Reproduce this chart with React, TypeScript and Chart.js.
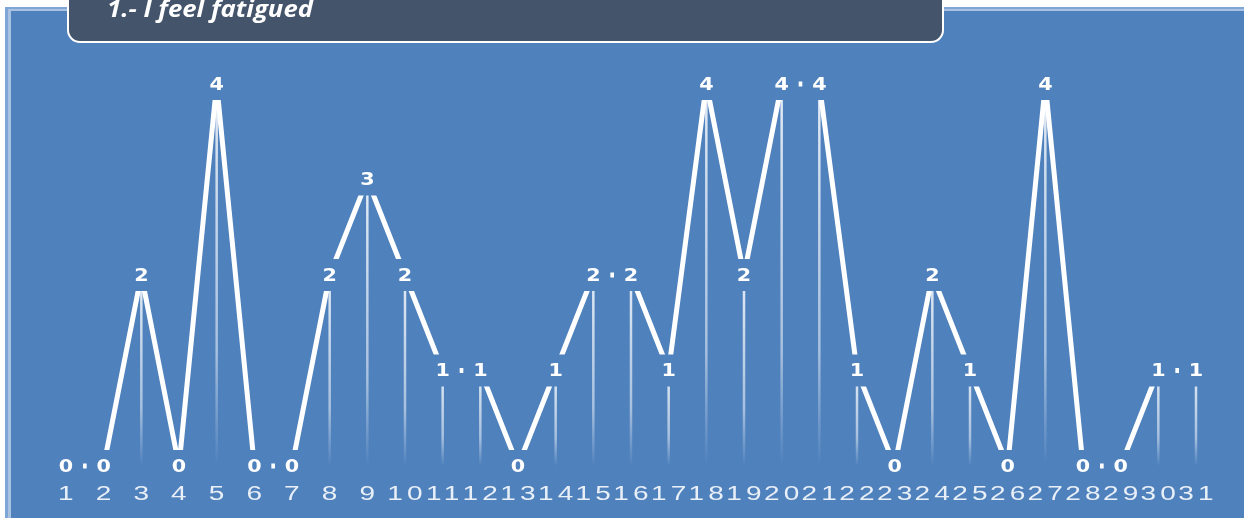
import React, { useEffect, useRef } from "react";
import { Chart, registerables } from "chart.js";

Chart.register(...registerables);

const dayLabels = [
  "1", "2", "3", "4", "5", "6", "7", "8", "9", "10",
  "11", "12", "13", "14", "15", "16", "17", "18", "19", "20",
  "21", "22", "23", "24", "25", "26", "27", "28", "29", "30", "31",
];
const fatigueValues = [
  0, 0, 2, 0, 4, 0, 0, 2, 3, 2,
  1, 1, 0, 1, 2, 2, 1, 4, 2, 4,
  4, 1, 0, 2, 1, 0, 4, 0, 0, 1, 1,
];
const titleText = "1.- I feel fatigued";
const yMin = 0;
const yMax = 4;

const BLUE = "#4F81BD";

const decorPlugin = {
  id: "decor",
  beforeDraw(chart: any) {
    const ctx = chart.ctx;
    const W = chart.width;
    const H = chart.height;
    ctx.save();
    ctx.fillStyle = "#ffffff";
    ctx.fillRect(0, 0, W, H);
    ctx.fillStyle = "#7FA6D6";
    ctx.fillRect(5, 7, W - 5, H - 7);
    ctx.fillStyle = "#A9C2E2";
    ctx.fillRect(8, 9, W - 8, H - 9);
    ctx.fillStyle = BLUE;
    ctx.fillRect(11, 11, W - 11, H - 11);
    ctx.restore();
  },
  beforeDatasetsDraw(chart: any) {
    const ctx = chart.ctx;
    const bottom = chart.chartArea.bottom;
    const meta = chart.getDatasetMeta(0);
    ctx.save();
    meta.data.forEach((el: any) => {
      if (el.y >= bottom - 1) return;
      const g = ctx.createLinearGradient(0, el.y, 0, bottom);
      g.addColorStop(0, "rgba(255,255,255,0.85)");
      g.addColorStop(0.7, "rgba(255,255,255,0.5)");
      g.addColorStop(1, "rgba(255,255,255,0)");
      ctx.strokeStyle = g;
      ctx.lineWidth = 2.5;
      ctx.beginPath();
      ctx.moveTo(el.x, el.y);
      ctx.lineTo(el.x, bottom);
      ctx.stroke();
    });
    ctx.restore();
  },
  afterDatasetsDraw(chart: any) {
    const ctx = chart.ctx;
    const meta = chart.getDatasetMeta(0);
    const values = chart.data.datasets[0].data;
    ctx.save();
    // value labels with background boxes
    meta.data.forEach((el: any, i: number) => {
      ctx.fillStyle = BLUE;
      ctx.fillRect(el.x - 17, el.y - 16, 34, 32);
      ctx.save();
      ctx.translate(el.x, el.y);
      ctx.scale(1.15, 1);
      ctx.font = "bold 18px 'DejaVu Sans'";
      ctx.fillStyle = "#ffffff";
      ctx.textAlign = "center";
      ctx.textBaseline = "middle";
      ctx.fillText(String(values[i]), 0, 1);
      ctx.restore();
    });
    // x tick labels
    const xs = chart.scales.x;
    xs.ticks.forEach((t: any, i: number) => {
      const x = xs.getPixelForTick(i);
      const label = xs.getLabelForValue(t.value);
      ctx.save();
      ctx.translate(x + 2, 494);
      ctx.scale(1.4, 1);
      ctx.font = "20px 'Liberation Sans'";
      (ctx as any).letterSpacing = "3px";
      ctx.fillStyle = "rgba(240,244,250,0.95)";
      ctx.textAlign = "center";
      ctx.textBaseline = "middle";
      ctx.fillText(label, 0, 0);
      ctx.restore();
    });
    // title box
    ctx.beginPath();
    ctx.roundRect(68, -20, 875, 62, 12);
    ctx.fillStyle = "#44546A";
    ctx.fill();
    ctx.lineWidth = 2;
    ctx.strokeStyle = "#ffffff";
    ctx.stroke();
    ctx.font = "italic bold 24px 'Open Sans'";
    const w = ctx.measureText(titleText).width;
    ctx.save();
    ctx.translate(107, 17);
    ctx.scale(206 / w, 1);
    ctx.fillStyle = "#ffffff";
    ctx.textAlign = "left";
    ctx.textBaseline = "alphabetic";
    ctx.fillText(titleText, 0, 0);
    ctx.restore();
    ctx.restore();
  },
};

export default function App() {
  const ref = useRef<HTMLCanvasElement | null>(null);
  useEffect(() => {
    document.body.style.margin = "0";
    const canvas = ref.current;
    if (!canvas) return;
    const chart = new Chart(canvas, {
      type: "line",
      data: {
        labels: dayLabels,
        datasets: [
          {
            label: titleText,
            data: fatigueValues,
            borderColor: "#ffffff",
            borderWidth: 5,
            pointRadius: 0,
            tension: 0,
            clip: false as any,
          },
        ],
      },
      options: {
        responsive: false,
        animation: false,
        devicePixelRatio: 1,
        layout: { padding: { top: 84, left: 66, right: 48, bottom: 0 } },
        plugins: {
          legend: { display: false },
          tooltip: { enabled: false },
          title: { display: false },
        },
        scales: {
          x: {
            type: "category",
            display: true,
            grid: { display: false, drawTicks: false },
            border: { display: false },
            ticks: { display: false },
            afterFit: (s: any) => {
              s.height = 52;
            },
          },
          y: { display: false, min: yMin, max: yMax },
        },
      },
      plugins: [decorPlugin],
    });
    return () => chart.destroy();
  }, []);
  return (
    <div style={{ position: "absolute", left: 0, top: 0, width: 1244, height: 518 }}>
      <canvas ref={ref} width={1244} height={518} style={{ display: "block" }} />
    </div>
  );
}
